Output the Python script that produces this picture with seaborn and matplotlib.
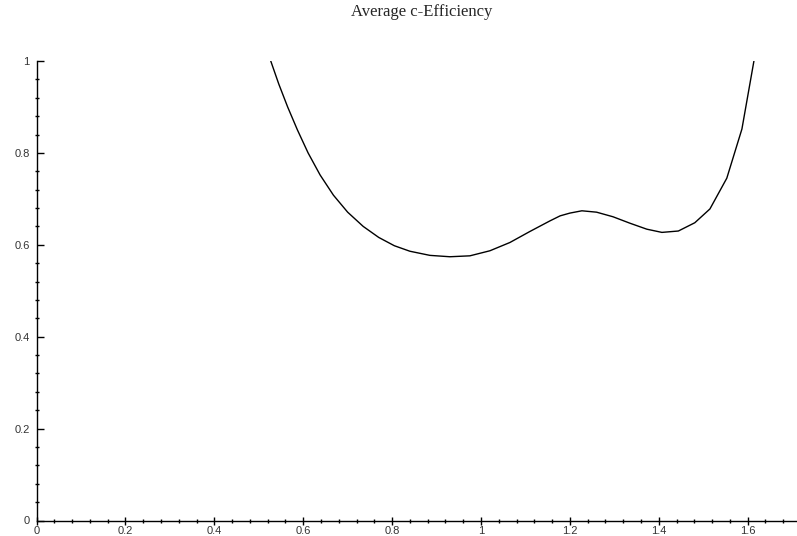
import matplotlib
matplotlib.use("Agg")
import matplotlib.pyplot as plt
from matplotlib.ticker import MultipleLocator, FuncFormatter
import seaborn as sns
import pandas as pd

# data
x_vals = [0.527, 0.545, 0.565, 0.587, 0.611, 0.638, 0.668, 0.700, 0.735, 0.770,
          0.805, 0.840, 0.885, 0.930, 0.975, 1.020, 1.065, 1.110, 1.155, 1.178,
          1.200, 1.227, 1.260, 1.297, 1.335, 1.373, 1.407, 1.444, 1.481, 1.515,
          1.553, 1.587, 1.614]
y_vals = [1.000, 0.950, 0.900, 0.850, 0.800, 0.752, 0.708, 0.671, 0.640, 0.616,
          0.598, 0.586, 0.577, 0.574, 0.576, 0.587, 0.605, 0.629, 0.652, 0.663,
          0.669, 0.674, 0.671, 0.661, 0.647, 0.634, 0.627, 0.630, 0.648, 0.678,
          0.745, 0.852, 1.000]
x_ticks = [0, 0.2, 0.4, 0.6, 0.8, 1.0, 1.2, 1.4, 1.6]
y_ticks = [0, 0.2, 0.4, 0.6, 0.8, 1.0]
title = "Average c-Efficiency"

sns.set_style("ticks")
plt.rcParams['font.family'] = ['Liberation Sans', 'DejaVu Sans']

df = pd.DataFrame({"x": x_vals, "y": y_vals})

fig = plt.figure(figsize=(7.97, 5.36), dpi=100)
ax = fig.add_axes([36.5 / 797, 15.5 / 536, 1 - 36.5 / 797, (520.5 - 61) / 536])
sns.lineplot(data=df, x="x", y="y", sort=False, color="black", linewidth=1.0, ax=ax)

ax.set_xlim(0, (797 - 36.5) / 444.5)
ax.set_ylim(0, 1)
ax.set_xlabel("")
ax.set_ylabel("")
for s in ["top", "right"]:
    ax.spines[s].set_visible(False)
for s in ["left", "bottom"]:
    ax.spines[s].set_linewidth(1.0)
    ax.spines[s].set_color("black")

fmt = FuncFormatter(lambda v, p: ("%g" % round(v, 2)))
ax.set_xticks(x_ticks)
ax.set_yticks(y_ticks)
ax.xaxis.set_major_formatter(fmt)
ax.yaxis.set_major_formatter(fmt)
ax.xaxis.set_minor_locator(MultipleLocator(0.04))
ax.yaxis.set_minor_locator(MultipleLocator(0.04))

ax.tick_params(axis="x", which="major", direction="inout", length=6, width=1,
               labelsize=8, pad=1, colors="black", labelcolor="#333333")
ax.tick_params(axis="x", which="minor", direction="inout", length=3.5, width=1, colors="black")
ax.tick_params(axis="y", which="major", direction="in", length=5, width=1,
               labelsize=8, pad=5, colors="black", labelcolor="#333333")
ax.tick_params(axis="y", which="minor", direction="inout", length=3.5, width=1, colors="black")

fig.text(422 / 797, 1 - 12 / 536, title, ha="center", va="center",
         fontsize=12, family=["Liberation Serif", "DejaVu Serif"])

fig.savefig("out.png", dpi=100)
